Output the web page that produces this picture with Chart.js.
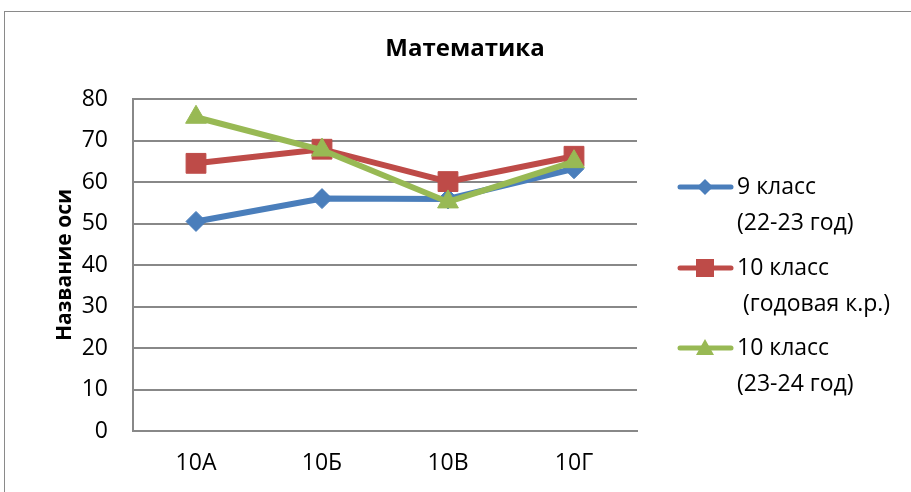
<!DOCTYPE html>
<html><head><meta charset="utf-8">
<script src="https://cdn.jsdelivr.net/npm/chart.js@4/dist/chart.umd.min.js"></script>
<style>
html,body{margin:0;padding:0;background:#fff;overflow:hidden;}
#wrap{position:relative;width:911px;height:492px;overflow:hidden;}
#frame{position:absolute;left:4px;top:11px;width:1000px;height:600px;border:1.5px solid #8a8a8a;box-sizing:border-box;}
canvas{position:absolute;left:0;top:0;}
</style></head><body>
<div id="wrap"><div id="frame"></div><canvas id="c" width="911" height="492"></canvas></div>
<script>
const categories = ['10А', '10Б', '10В', '10Г'];
const grade9 = [50.5, 56.0, 55.9, 63.2];
const grade10Annual = [64.5, 67.9, 60.1, 66.2];
const grade10 = [75.6, 67.7, 55.2, 64.9];
const seriesNames = [['9 класс', '(22-23 год)'], ['10 класс', ' (годовая к.р.)'], ['10 класс', '(23-24 год)']];
const yTicks = [0, 10, 20, 30, 40, 50, 60, 70, 80];
const chartTitle = 'Математика';
const yTitle = 'Название оси';

const FONT = "'Open Sans', 'Noto Sans', sans-serif";
const colors = ['#4A7EBB', '#BE4B48', '#98B954'];
const styles = ['rectRot', 'rect', 'triangle'];
const radii = [10, 14, 12];
const seriesData = [grade9, grade10Annual, grade10];

const titlePlugin = {
  id: 'centerTitle',
  afterDraw(chart) {
    const ctx = chart.ctx;
    ctx.save();
    ctx.fillStyle = '#000';
    ctx.font = "bold 24px " + FONT;
    ctx.textAlign = 'center';
    ctx.textBaseline = 'middle';
    ctx.fillText(chartTitle, 465, 49);
    ctx.restore();
  }
};

const legendPlugin = {
  id: 'sideLegend',
  afterDraw(chart) {
    const ctx = chart.ctx;
    const itemY = [187, 268, 348];
    const lineGap = 36;
    ctx.save();
    chart.data.datasets.forEach((ds, i) => {
      const y = itemY[i];
      ctx.strokeStyle = ds.borderColor;
      ctx.lineWidth = 5;
      ctx.lineCap = 'round';
      ctx.beginPath();
      ctx.moveTo(680, y);
      ctx.lineTo(731, y);
      ctx.stroke();
      ctx.fillStyle = ds.borderColor;
      const cx = 705;
      ctx.beginPath();
      if (styles[i] === 'rectRot') {
        const r = 8;
        ctx.moveTo(cx, y - r); ctx.lineTo(cx + r, y); ctx.lineTo(cx, y + r); ctx.lineTo(cx - r, y); ctx.closePath();
      } else if (styles[i] === 'rect') {
        ctx.rect(cx - 9, y - 9, 18, 18);
      } else {
        ctx.moveTo(cx, y - 9); ctx.lineTo(cx + 9, y + 7); ctx.lineTo(cx - 9, y + 7); ctx.closePath();
      }
      ctx.fill();
      ctx.fillStyle = '#000';
      ctx.font = "23px " + FONT;
      ctx.textBaseline = 'middle';
      ctx.textAlign = 'left';
      const lines = Array.isArray(ds.label) ? ds.label : [ds.label];
      lines.forEach((t, k) => ctx.fillText(t, 737, y + k * lineGap));
    });
    ctx.restore();
  }
};

const datasets = seriesData.map((d, i) => ({
  label: seriesNames[i],
  data: d,
  borderColor: colors[i],
  backgroundColor: colors[i],
  borderWidth: 6,
  pointStyle: styles[i],
  pointRadius: radii[i],
  pointHoverRadius: radii[i],
  pointBorderWidth: 1,
  pointBackgroundColor: colors[i],
  pointBorderColor: colors[i],
  tension: 0,
  order: 3 - i
}));

new Chart(document.getElementById('c'), {
  type: 'line',
  data: { labels: categories, datasets },
  plugins: [legendPlugin, titlePlugin],
  options: {
    responsive: false,
    animation: false,
    events: [],
    layout: { padding: { left: 0, right: 274, top: 99, bottom: 0 } },
    plugins: {
      legend: { display: false },
      tooltip: { enabled: false },
      title: { display: false }
    },
    scales: {
      x: {
        offset: true,
        grid: { display: false, drawTicks: false },
        border: { display: true, color: '#888', width: 2 },
        ticks: { color: '#000', font: { family: FONT, size: 23 }, padding: 19, maxRotation: 0 },
        afterFit(s) { s.height = 61; }
      },
      y: {
        min: 0, max: 80,
        afterBuildTicks(s) { s.ticks = yTicks.map(v => ({ value: v })); },
        grid: { color: '#888', lineWidth: 2, drawTicks: false },
        border: { display: true, color: '#888', width: 2 },
        ticks: { color: '#000', font: { family: FONT, size: 23 }, padding: 25 },
        title: {
          display: true, text: yTitle, color: '#000',
          font: { family: FONT, size: 21, weight: 'bold', lineHeight: 1.2 },
          padding: { top: 52, bottom: 0 }
        },
        afterFit(s) { s.width = 133; }
      }
    }
  }
});
</script>
</body></html>
